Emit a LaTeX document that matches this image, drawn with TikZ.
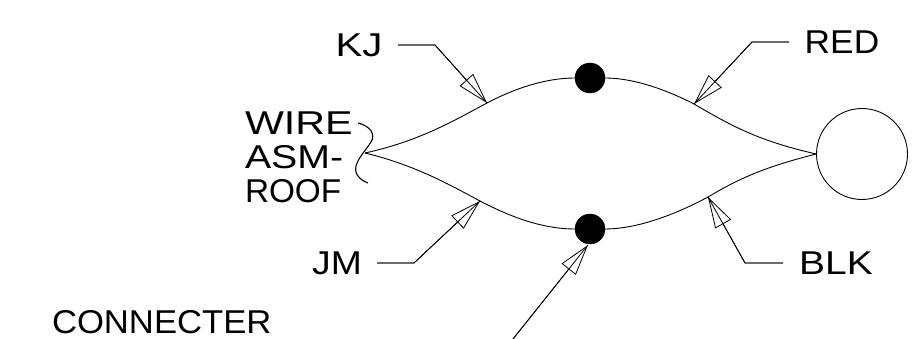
\documentclass[tikz,border=0pt]{standalone}
\usepackage{fontspec}
\setmainfont{Liberation Sans}
\usetikzlibrary{arrows.meta}
\newcommand{\wide}[2]{\scalebox{#1}[1]{#2}}
\tikzstyle{lbl} = [inner sep=0pt, outer sep=0pt, font=\fontsize{33}{34}\selectfont]
\tikzstyle{dot} = [circle, fill=black, draw=black, minimum size=30pt, inner sep=0pt]
\tikzstyle{ring} = [circle, draw=black, line width=0.9pt, minimum size=91pt, inner sep=0pt]
\tikzstyle{wire} = [line width=0.9pt]
\tikzstyle{leader} = [line width=0.8pt, postaction={draw,-{Triangle[open,length=31pt,width=18pt,line width=0.8pt]}}]
\begin{document}
\begin{tikzpicture}[x=1pt,y=-1pt]
   \useasboundingbox (0,0) rectangle (915,339);
   % labels
   \node (kj) [lbl] at (359,45) {\wide{1.22}{KJ}};
   \node (red) [lbl] at (842,42) {\wide{1.07}{RED}};
   \node (jm) [lbl] at (337,263) {\wide{1.13}{JM}};
   \node (blk) [lbl] at (836,263) {\wide{1.18}{BLK}};
   \node (asm) [lbl, align=left, anchor=west] at (245,157) {\wide{1.25}{WIRE}\\\wide{1.19}{ASM-}\\\wide{1.01}{ROOF}};
   \node (conn) [lbl, anchor=west] at (52,322) {\wide{1.05}{CONNECTER}};
   % splices and ring
   \node (top) [dot] at (590,78) {};
   \node (bot) [dot] at (590,229) {};
   \node (eye) [ring] at (862,154) {};
   % wires
   \coordinate (apex) at (365,153);
   \coordinate (kjtip) at (487,103);
   \coordinate (redtip) at (694,104);
   \coordinate (jmtip) at (480,201);
   \coordinate (blktip) at (708,197);
   \draw [wire] (apex) .. controls (420,141) and (455,120) .. (kjtip)
      .. controls (525,83) and (555,78) .. (top.west);
   \draw [wire] (top.east) .. controls (625,78) and (655,84) .. (redtip)
      .. controls (735,128) and (760,141) .. (eye.west);
   \draw [wire] (apex) .. controls (415,165) and (450,185) .. (jmtip)
      .. controls (520,222) and (550,229) .. (bot.west);
   \draw [wire] (bot.east) .. controls (630,229) and (665,220) .. (blktip)
      .. controls (740,178) and (765,167) .. (eye.west);
   % brace
   \coordinate (bracea) at (358,123);
   \coordinate (braceb) at (368,183);
   \draw [line width=1.1pt] (bracea) .. controls (370,126) and (376,134) .. (371,142)
      .. controls (366,150) and (358,158) .. (356,166) .. controls (354,174) and (360,180) .. (braceb);
   % leaders
   \coordinate (kja) at (398,45);
   \coordinate (kjb) at (435,45);
   \coordinate (reda) at (789,42);
   \coordinate (redb) at (752,42);
   \coordinate (jma) at (377,263);
   \coordinate (jmb) at (414,263);
   \coordinate (blka) at (783,263);
   \coordinate (blkb) at (745,263);
   \coordinate (conna) at (513,339);
   \coordinate (conntip) at (588,245);
   \draw [leader] (kja) -- (kjb) -- (kjtip);
   \draw [leader] (reda) -- (redb) -- (redtip);
   \draw [leader] (jma) -- (jmb) -- (jmtip);
   \draw [leader] (blka) -- (blkb) -- (blktip);
   \draw [leader] (conna) -- (conntip);
\end{tikzpicture}
\end{document}
